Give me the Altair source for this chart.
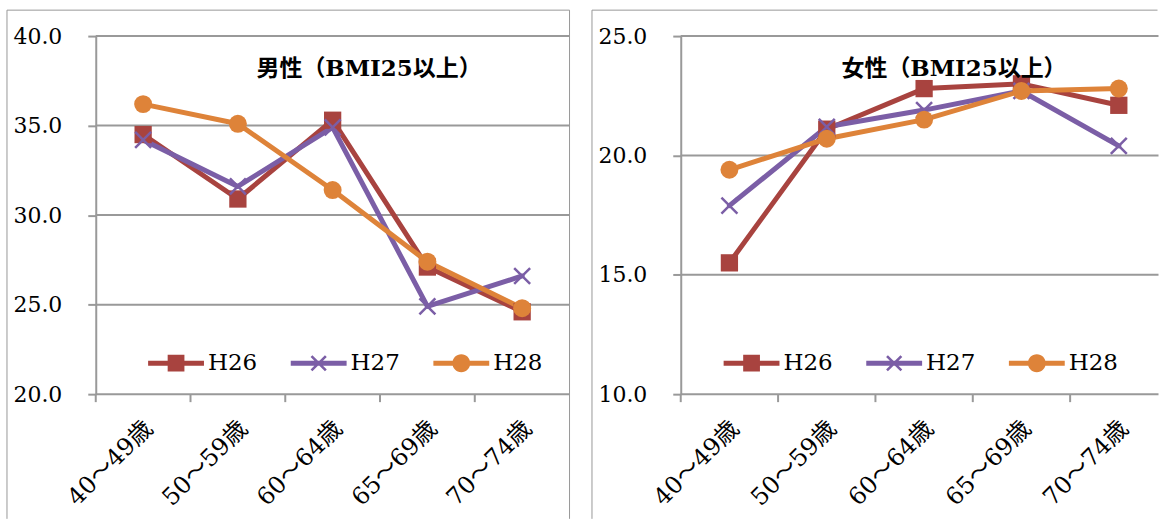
import altair as alt
import pandas as pd

# ---- data ----
ages = ["40～49歳", "50～59歳", "60～64歳", "65～69歳", "70～74歳"]
series = ["H26", "H27", "H28"]

male_h26 = [34.5, 30.9, 35.3, 27.1, 24.6]
male_h27 = [34.2, 31.6, 34.9, 24.9, 26.6]
male_h28 = [36.2, 35.1, 31.4, 27.4, 24.8]

female_h26 = [15.5, 21.1, 22.8, 23.0, 22.1]
female_h27 = [17.9, 21.2, 21.9, 22.7, 20.4]
female_h28 = [19.4, 20.7, 21.5, 22.7, 22.8]

male_ticks = [20, 25, 30, 35, 40]
female_ticks = [10, 15, 20, 25]

male_title = "男性（BMI25以上）"
female_title = "女性（BMI25以上）"

# ---- styles ----
colors = ["#A8433F", "#7B5EA6", "#DE8339"]
GRID = "#999999"
FONT = "DejaVu Serif, Noto Sans CJK JP"
H = 359  # plot height

LINE_P = "M-1,-0.09H1V0.09H-1Z"
SQ_P = "M-0.3,-0.3H0.3V0.3H-0.3Z"
X_P = ("M-0.225,-0.29L0.29,0.225L0.225,0.29L-0.29,-0.225Z"
       "M0.29,-0.225L-0.225,0.29L-0.29,0.225L0.225,-0.29Z")
C_P = "M0.32,0A0.32,0.32 0 1,1 -0.32,0A0.32,0.32 0 1,1 0.32,0Z"
legend_paths = [LINE_P + SQ_P, LINE_P + X_P, LINE_P + C_P]
X_MARK = "M-1,-1L1,1M1,-1L-1,1"


def make_df(h26, h27, h28):
    return pd.DataFrame({
        "age": ages * 3,
        "series": [s for s in series for _ in ages],
        "value": list(h26) + list(h27) + list(h28),
    })


def panel(df, ydom, yticks, title, width, band_range, legend_x, border_right, right_edge):
    xscale = alt.Scale(paddingInner=0, paddingOuter=0, range=[0, band_range])
    x = alt.X("age:N", sort=ages, title=None, scale=xscale, axis=None)
    x_start = alt.X("age:N", sort=ages, title=None, scale=xscale, axis=None,
                    bandPosition=0)
    yscale = alt.Scale(domain=ydom, nice=False, zero=False)
    y = alt.Y("value:Q", title=None, scale=yscale,
              axis=alt.Axis(values=yticks, format=".1f", grid=False,
                            tickColor=GRID, tickWidth=2, tickSize=8,
                            domainColor=GRID, domainWidth=2, labelPadding=26,
                            labelFont=FONT, labelFontSize=22, labelColor="black"))
    color = alt.Color("series:N", scale=alt.Scale(range=colors), legend=None)

    base = alt.Chart(df)
    cats = alt.Chart(pd.DataFrame({"age": ages}))
    one = alt.Chart(pd.DataFrame({"k": [0]}))

    # outer frame of the panel (its bottom lies below the picture)
    frame = [
        one.mark_rule(color=GRID, strokeWidth=1).encode(
            x=alt.value(-89), x2=alt.value(border_right), y=alt.value(-26)),
        one.mark_rule(color=GRID, strokeWidth=1).encode(
            x=alt.value(-89), y=alt.value(-26), y2=alt.value(484)),
    ]
    if right_edge:
        frame.append(one.mark_rule(color=GRID, strokeWidth=1).encode(
            x=alt.value(border_right), y=alt.value(-26), y2=alt.value(484)))

    grid = alt.Chart(pd.DataFrame({"value": yticks})).mark_rule(
        color=GRID, strokeWidth=2).encode(y=y)

    # category-axis tick marks on the band boundaries
    xticks = cats.mark_rule(color=GRID, strokeWidth=2).encode(
        x=x_start, y=alt.value(H), y2=alt.value(H + 8))
    # rotated category labels
    xlabels = cats.mark_text(angle=315, align="right", baseline="middle", font=FONT,
                             fontSize=24, color="black", xOffset=6, yOffset=1).encode(
        x=x, y=alt.value(H + 30), text="age:N")

    lines = base.mark_line(strokeWidth=5, strokeJoin="round", strokeCap="round").encode(
        x=x, y=y, color=color)
    squares = base.transform_filter(alt.datum.series == "H26").mark_point(
        shape="square", filled=True, size=300, opacity=1).encode(x=x, y=y, color=color)
    crosses = base.transform_filter(alt.datum.series == "H27").mark_point(
        shape=X_MARK, filled=False, size=256, strokeWidth=2.5, opacity=1).encode(
        x=x, y=y, color=color)
    circles = base.transform_filter(alt.datum.series == "H28").mark_point(
        shape="circle", filled=True, size=324, opacity=1).encode(x=x, y=y, color=color)

    leg = alt.Legend(orient="none", legendX=legend_x, legendY=300, direction="horizontal",
                     title=None, padding=0, symbolSize=3136, symbolStrokeWidth=0,
                     symbolOpacity=1, labelFont=FONT, labelFontSize=23,
                     labelColor="black", labelOffset=4, columnPadding=33)
    legend_layer = base.mark_point(filled=True, opacity=0, size=10).encode(
        x=x, y=y,
        fill=alt.Fill("series:N", scale=alt.Scale(domain=series, range=colors), legend=leg),
        shape=alt.Shape("series:N", scale=alt.Scale(domain=series, range=legend_paths),
                        legend=leg))

    return alt.layer(*frame, grid, xticks, xlabels, lines, squares, crosses, circles,
                     legend_layer).properties(
        width=width, height=H,
        title=alt.TitleParams(title, font=FONT, fontSize=23, fontWeight="bold",
                              color="black", anchor="start", align="center",
                              dx=274, dy=83, baseline="middle", offset=0,
                              orient="top", frame="group"))


left = panel(make_df(male_h26, male_h27, male_h28), [20, 40], male_ticks, male_title,
             475, 475, 52.5, 475, True)
right = panel(make_df(female_h26, female_h27, female_h28), [10, 25], female_ticks,
              female_title, 479, 488, 43, 478, False)

chart = alt.hconcat(left, right, spacing=20.5).resolve_scale(
    color="independent", fill="independent", shape="independent"
).properties(
    padding={"left": 6, "top": 8.5, "right": 0, "bottom": 0},
    background="white",
).configure_view(stroke=None)

chart.save("out.html", embed_options={"renderer": "svg", "actions": False})
